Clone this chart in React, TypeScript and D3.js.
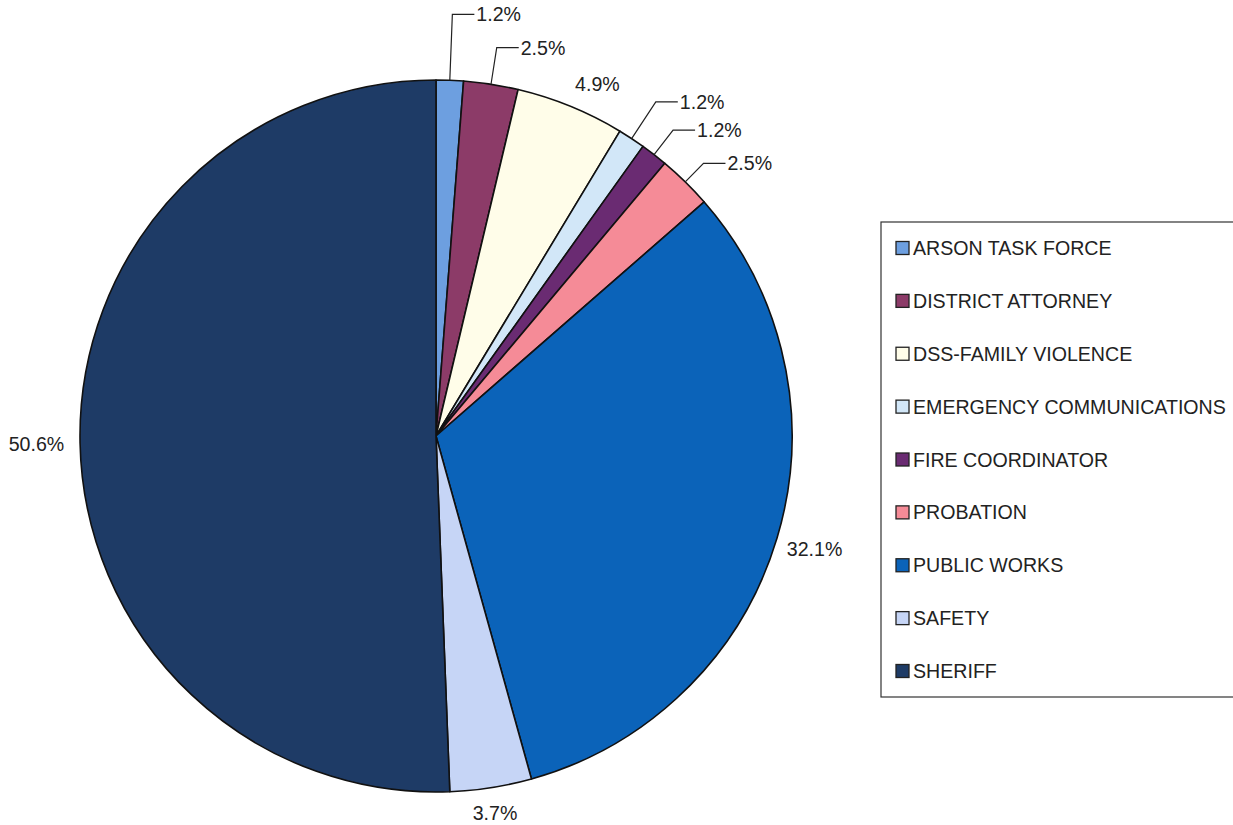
import React from "react";
import * as d3 from "d3";

const categories = [
  "ARSON TASK FORCE",
  "DISTRICT ATTORNEY",
  "DSS-FAMILY VIOLENCE",
  "EMERGENCY COMMUNICATIONS",
  "FIRE COORDINATOR",
  "PROBATION",
  "PUBLIC WORKS",
  "SAFETY",
  "SHERIFF",
];
const counts = [1, 2, 4, 1, 1, 2, 26, 3, 41];
const labels = ["1.2%", "2.5%", "4.9%", "1.2%", "1.2%", "2.5%", "32.1%", "3.7%", "50.6%"];

const colors = [
  "#6d9fe0",
  "#8c3b68",
  "#fffde9",
  "#d2e7f8",
  "#6a2b72",
  "#f58b97",
  "#0b63b9",
  "#c6d5f6",
  "#1e3b66",
];
// layout: leader label elbow radial extra (null = no leader), gap and angle shift for plain labels
const leaderExtra: (number | null)[] = [66, 37, null, 44, 31, 26, null, null, null];
const plainGap = [0, 0, 14, 0, 0, 0, 12, 13, 18];
const plainShiftDeg = [0, 0, 2.4, 0, 0, 0, 0, 0, 0];

const W = 1233;
const H = 825;
const cx = 436;
const cy = 436;
const R = 356;
const FONT = "'Liberation Sans', Arial, sans-serif";
const FS = 19.6;

export default function App() {
  const pie = d3.pie<number>().sort(null).value((d) => d)(counts);
  const arc = d3.arc<d3.PieArcDatum<number>>().innerRadius(0).outerRadius(R);

  const legendY = d3.scaleLinear().domain([0, categories.length - 1]).range([248, 671]);

  return (
    <svg
      width={W}
      height={H}
      style={{ position: "absolute", left: 0, top: 0, background: "#fff" }}
      fontFamily={FONT}
    >
      <g transform={`translate(${cx},${cy})`}>
        {pie.map((p, i) => (
          <path key={i} d={arc(p) || ""} fill={colors[i]} stroke="#111" strokeWidth={1.6} strokeLinejoin="round" />
        ))}
        {pie.map((p, i) => {
          const a0 = (p.startAngle + p.endAngle) / 2;
          const s0 = Math.sin(a0);
          const c0 = -Math.cos(a0);
          const ex = R * s0;
          const ey = R * c0;
          const lx = leaderExtra[i];
          if (lx !== null) {
            const rr = R + lx;
            const elx = rr * s0;
            const ely = rr * c0;
            const hx = elx + 22;
            return (
              <g key={"l" + i}>
                <polyline
                  points={`${ex},${ey} ${elx},${ely} ${hx},${ely}`}
                  fill="none"
                  stroke="#222"
                  strokeWidth={1.2}
                />
                <text x={hx + 2} y={ely} dominantBaseline="central" fontSize={FS} fill="#222">
                  {labels[i]}
                </text>
              </g>
            );
          }
          const a = a0 + (plainShiftDeg[i] * Math.PI) / 180;
          const s = Math.sin(a);
          const c = -Math.cos(a);
          const w = labels[i].length * 0.52 * FS;
          const h = FS;
          const dist = R + plainGap[i] + (w / 2) * Math.abs(s) + (h / 2) * Math.abs(c);
          return (
            <text
              key={"t" + i}
              x={dist * s}
              y={dist * c}
              textAnchor="middle"
              dominantBaseline="central"
              fontSize={FS}
              fill="#222"
            >
              {labels[i]}
            </text>
          );
        })}
      </g>
      <rect x={881} y={222} width={380} height={475} fill="#fff" stroke="#333" strokeWidth={1.2} />
      {categories.map((c, i) => (
        <g key={c} transform={`translate(896,${legendY(i)})`}>
          <rect x={0} y={-6.5} width={13} height={13} fill={colors[i]} stroke="#222" strokeWidth={1.3} />
          <text x={17} y={0} dominantBaseline="central" fontSize={FS} fill="#222">
            {c}
          </text>
        </g>
      ))}
    </svg>
  );
}
